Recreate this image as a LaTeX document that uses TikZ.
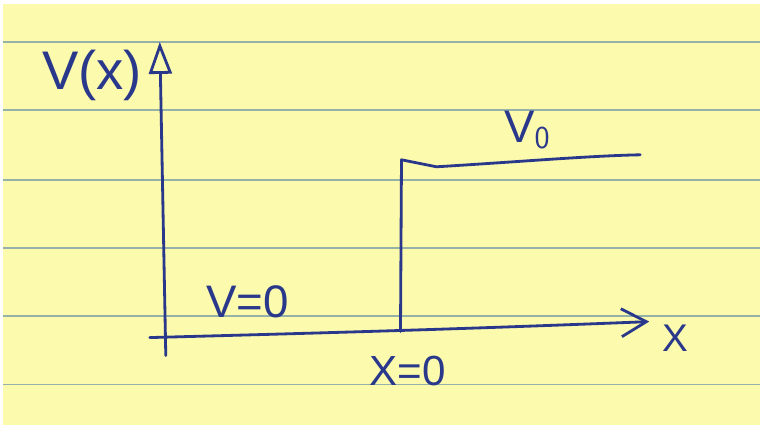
\documentclass[tikz,border=0pt]{standalone}
\usepackage{fontspec}
\setmainfont{Liberation Sans}
\usepackage{xcolor}
\usetikzlibrary{arrows.meta,positioning}

\definecolor{paper}{RGB}{252,250,172}
\definecolor{rule}{RGB}{150,178,168}
\definecolor{ink}{RGB}{42,56,140}

\begin{document}
\begin{tikzpicture}[x=0.02cm, y=-0.02cm,
  ruling/.style={draw=rule, line width=1.1pt},
  pen/.style={draw=ink, line width=1.6pt, line cap=round, line join=round},
  axisy/.style={pen, -{Triangle[open, length=6.4mm, width=4.6mm, line width=1.6pt]}},
  axisx/.style={pen, -{Straight Barb[length=5mm, width=5.6mm, line width=1.6pt]}},
  handlabel/.style={text=ink, inner sep=0pt},
]

% paper
\fill[white] (0,0) rectangle (761,426);
\fill[paper] (3,4) rectangle (761,426);
\foreach \yy in {42,110,180,248,316,385}
  \draw[ruling] (3,\yy) -- (761,\yy);

% axes
\coordinate (yfoot) at (166,356);
\coordinate (ytip) at (160,42);
\coordinate (xfoot) at (150,338);
\coordinate (xtip) at (650,322);
\draw[axisy] (yfoot) -- (ytip);
\draw[axisx] (xfoot) .. controls (300,334) and (450,330) .. (xtip);

% potential step
\coordinate (stepfoot) at (401,332);
\coordinate (steptop) at (402,160);
\coordinate (stepkink) at (437,167);
\coordinate (stepend) at (641,155);
\draw[pen] (stepfoot) -- (steptop) -- (stepkink) .. controls (520,162) and (590,156) .. (stepend);

% labels
\node[handlabel, font=\fontsize{31}{31}\selectfont] (vlabel) at (92,76) {V(x)};
\node[handlabel, font=\fontsize{26}{26}\selectfont] (vzero) at (528,130) {V$_{\mathsf{0}}$};
\node[handlabel, font=\fontsize{26}{26}\selectfont] (vnull) at (248,302) {V=0};
\node[handlabel, font=\fontsize{24}{24}\selectfont] (xnull) at (408,371) {X=0};
\node[handlabel, font=\fontsize{22}{22}\selectfont] (xlabel) at (676,339) {X};

\end{tikzpicture}
\end{document}
